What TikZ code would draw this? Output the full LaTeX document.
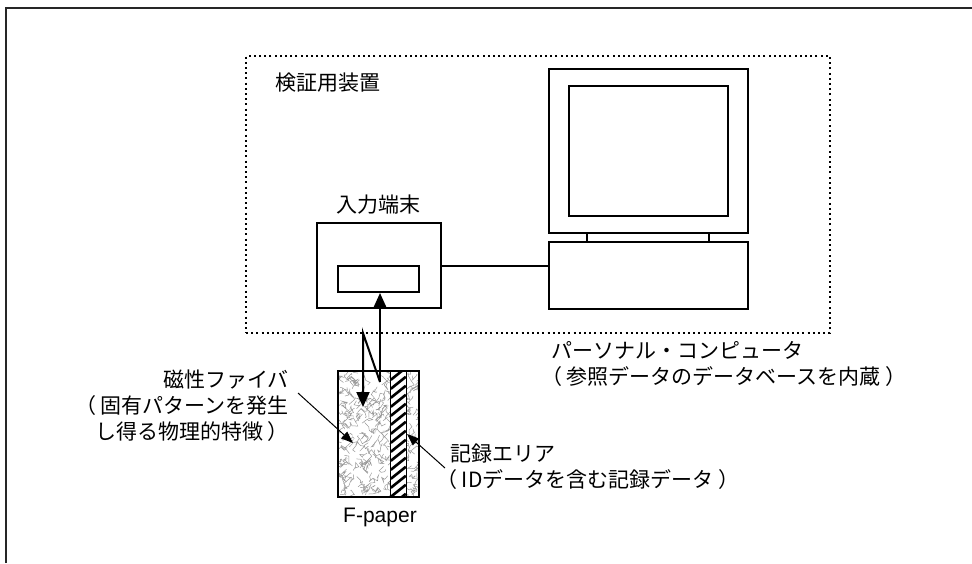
\documentclass[tikz,border=0pt]{standalone}
\usepackage{fontspec}
\setmainfont{Noto Sans CJK JP}
\newfontfamily\latinfont{Liberation Sans}
\usetikzlibrary{arrows.meta}

\begin{document}
\begin{tikzpicture}[x=1pt, y=-1pt,
        frame/.style={draw=black!85, line width=1.5pt},
        devbox/.style={
            draw,
            rectangle,
            line width=2pt,
            inner sep=0pt
        },
        verifybox/.style={
            draw,
            rectangle,
            line width=2pt,
            dash pattern=on 2pt off 3.2pt,
            inner sep=0pt
        },
        txt/.style={inner sep=0pt, font=\fontsize{21}{26}\selectfont},
        link/.style={line width=2pt},
        bigarrow/.style={line width=2pt, -{Triangle[length=15pt,width=13pt]}},
        callout/.style={line width=1pt, -{Triangle[length=12pt,width=9pt]}},
        fiber/.style={draw=black!40, line width=0.5pt},
        hatch/.style={line width=2.6pt}
    ]
        \useasboundingbox (0,0) rectangle (972,563);

        % Page frame
        \draw[frame] (6,563) -- (6,8) -- (972,8);

        % Verification equipment
        \node[verifybox, minimum width=584pt, minimum height=277pt] (verifier) at (538,194.5) {};
        \node[txt, anchor=west] (verifierlbl) at (275,83) {検証用装置};

        % Input terminal with its reading slot
        \node[devbox, minimum width=124pt, minimum height=85pt] (term) at (379,265.5) {};
        \node[devbox, minimum width=81pt, minimum height=26pt] (slot) at (378.5,279) {};
        \node[txt] (termlbl) at (378,205) {入力端末};

        % Personal computer
        \node[devbox, minimum width=199pt, minimum height=164pt] (monitor) at (648.5,151) {};
        \node[devbox, minimum width=159pt, minimum height=130pt] (screen) at (648.5,151) {};
        \node[devbox, minimum width=122pt, minimum height=9pt] (stand) at (648,237.5) {};
        \node[devbox, minimum width=199pt, minimum height=67pt] (pcbase) at (648.5,275.5) {};
        \node[txt, anchor=west, align=left] (pclbl) at (551,364)
            {パーソナル・コンピュータ\\\hspace*{-10pt}（ 参照データのデータベースを内蔵 ）};

        % Cable between terminal and computer
        \draw[link] (term.east) -- (term.east -| pcbase.west);

        % F-paper
        \node[inner sep=0pt, minimum width=81pt, minimum height=126pt] (paper) at (378.5,434) {};
        \node[inner sep=0pt, minimum width=15pt, minimum height=126pt] (record) at (398.5,434) {};
        \pgfmathsetseed{42}
        \begin{scope}
            \clip (paper.north west) rectangle (paper.south east);
            \foreach \k in {1,...,230} {
                \pgfmathsetmacro{\fx}{338+81*rnd}
                \pgfmathsetmacro{\fy}{371+126*rnd}
                \draw[fiber] (\fx,\fy) -- ++({5*rand},{5*rand}) -- ++({5*rand},{5*rand})
                    -- ++({5*rand},{5*rand}) -- ++({5*rand},{5*rand});
            }
        \end{scope}
        \fill[white] (record.north west) rectangle (record.south east);
        \begin{scope}
            \clip (record.north west) rectangle (record.south east);
            \foreach \s in {0,9,...,144}
                \draw[hatch] (record.north west) ++(0,\s) -- ++(15,-12);
        \end{scope}
        \draw[line width=1pt] (record.north west) rectangle (record.south east);
        \draw[line width=2pt] (paper.north west) rectangle (paper.south east);
        \node[txt, font=\latinfont\fontsize{21}{26}\selectfont] (paperlbl) at (380,517) {F-paper};

        % Reading path between slot and paper
        \coordinate (bounce) at (380,382);
        \coordinate (bend) at (363,333);
        \coordinate (hit) at (363,407);
        \draw[bigarrow] (bounce) -- (bounce |- slot.south);
        \draw[bigarrow] (bounce) -- (bend) -- (hit);

        % Callouts
        \node[txt, anchor=east, align=right] (fiberlbl) at (289,406)
            {磁性ファイバ\\（ 固有パターンを発生\\し得る物理的特徴 ）};
        \coordinate (fiberfrom) at (298,393);
        \coordinate (fiberto) at (353,443);
        \draw[callout] (fiberfrom) -- (fiberto);

        \node[txt, anchor=west, align=left] (reclbl) at (450,467)
            {記録エリア\\\hspace*{-14pt}（ IDデータを含む記録データ ）};
        \coordinate (recfrom) at (445,468);
        \coordinate (recto) at (407,434);
        \draw[callout] (recfrom) -- (recto);

    \end{tikzpicture}
\end{document}
